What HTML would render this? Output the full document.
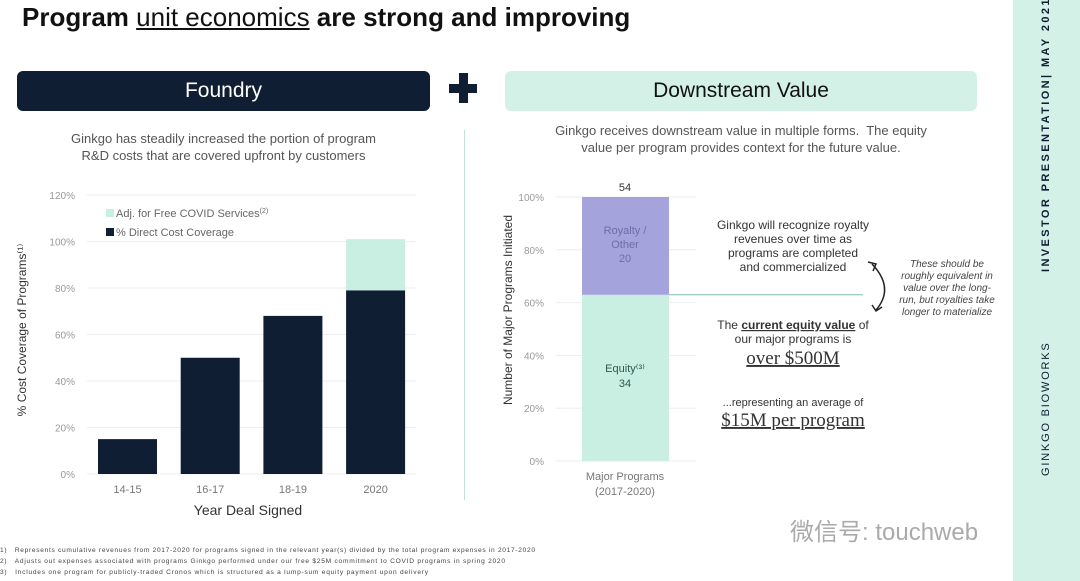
<!DOCTYPE html>
<html><head><meta charset="utf-8"><style>
body{margin:0;width:1080px;height:581px;background:#fff;overflow:hidden;font-family:"Liberation Sans",sans-serif;position:relative}
.a{position:absolute}
.vt{position:absolute;transform-origin:0 0;transform:rotate(-90deg);white-space:nowrap;font-size:11px;color:#0f1e33;line-height:12px;height:12px}
</style></head><body>
<div class="a" style="left:22px;top:2px;font-size:26px;font-weight:bold;color:#111;white-space:nowrap">Program <span style="font-weight:normal;text-decoration:underline;font-family:'Liberation Sans Narrow','Liberation Sans',sans-serif">unit economics</span> are strong and improving</div>
<div class="a" style="left:17px;top:71px;width:413px;height:40px;background:#0f1e33;border-radius:6px;color:#fff;font-size:21px;text-align:center;line-height:40px">Foundry</div>
<div class="a" style="left:449px;top:73px;width:28px;height:30px">
<div class="a" style="left:10px;top:0;width:9px;height:30px;background:#0f1e33"></div><div class="a" style="left:0;top:11px;width:28px;height:9px;background:#0f1e33"></div></div>
<div class="a" style="left:505px;top:71px;width:472px;height:40px;background:#d4f1e8;border-radius:6px;color:#111;font-size:21px;text-align:center;line-height:40px">Downstream Value</div>
<div class="a" style="left:17px;top:130px;width:413px;text-align:center;font-size:13px;line-height:17px;color:#555">Ginkgo has steadily increased the portion of program<br>R&amp;D costs that are covered upfront by customers</div>
<div class="a" style="left:505px;top:122px;width:472px;text-align:center;font-size:13px;line-height:17px;color:#555">Ginkgo receives downstream value in multiple forms.&nbsp; The equity<br>value per program provides context for the future value.</div>
<div class="a" style="left:464px;top:130px;width:1px;height:370px;background:#bfe3da"></div>
<div class="a" style="left:1013px;top:0;width:67px;height:581px;background:#d4f1e8"></div>
<div class="vt" style="left:1040px;top:476px;letter-spacing:1.8px">GINKGO BIOWORKS</div>
<div class="vt" style="left:1040px;top:272px;letter-spacing:2.4px;font-weight:bold">INVESTOR PRESENTATION| MAY 2021</div>
<svg class="a" style="left:0;top:0" width="1013" height="581" font-family="Liberation Sans, sans-serif">
<g id="left"></g><g id="right"></g>
<text x="26" y="330" transform="rotate(-90 26 330)" font-size="12" fill="#333" text-anchor="middle">% Cost Coverage of Programs⁽¹⁾</text>
<text x="248" y="515" font-size="14" fill="#333" text-anchor="middle">Year Deal Signed</text>
<rect x="106" y="209" width="8" height="8" fill="#c9eee2"/>
<text x="116" y="217" font-size="11" fill="#666">Adj. for Free COVID Services<tspan font-size="7" dy="-4">(2)</tspan></text>
<rect x="106" y="228" width="8" height="8" fill="#0f1e33"/>
<text x="116" y="236" font-size="11" fill="#666">% Direct Cost Coverage</text>
<text x="512" y="310" transform="rotate(-90 512 310)" font-size="12" fill="#333" text-anchor="middle">Number of Major Programs Initiated</text>
<text x="625" y="480" font-size="11" fill="#777" text-anchor="middle">Major Programs</text>
<text x="625" y="495" font-size="11" fill="#777" text-anchor="middle">(2017-2020)</text>
<g font-size="12" fill="#333" text-anchor="middle">
<text x="793" y="229">Ginkgo will recognize royalty</text>
<text x="793" y="243">revenues over time as</text>
<text x="793" y="257">programs are completed</text>
<text x="793" y="271">and commercialized</text>
<text x="793" y="329">The <tspan text-decoration="underline" font-weight="bold">current equity value</tspan> of</text>
<text x="793" y="343">our major programs is</text>
<text x="793" y="364" font-family="Liberation Serif, serif" font-size="19" text-decoration="underline">over $500M</text>
<text x="793" y="406" font-size="11">...representing an average of</text>
<text x="793" y="426" font-family="Liberation Serif, serif" font-size="19" text-decoration="underline">$15M per program</text>
</g>
<g font-size="10" fill="#444" font-style="italic" text-anchor="middle">
<text x="947" y="267">These should be</text><text x="947" y="279">roughly equivalent in</text><text x="947" y="291">value over the long-</text><text x="947" y="303">run, but royalties take</text><text x="947" y="315">longer to materialize</text></g>
<path d="M872 264 Q895 288 876 310" stroke="#222" stroke-width="1.5" fill="none"/>
<path d="M868 262 L876 264 L873 271 M872 305 L876 311 L882 307" stroke="#222" stroke-width="1.5" fill="none"/>
<g font-size="6.6" fill="#444">
<text x="0" y="552" textLength="535">1)&nbsp;&nbsp; Represents cumulative revenues from 2017-2020 for programs signed in the relevant year(s) divided by the total program expenses in 2017-2020</text>
<text x="0" y="563" textLength="505">2)&nbsp;&nbsp; Adjusts out expenses associated with programs Ginkgo performed under our free $25M commitment to COVID programs in spring 2020</text>
<text x="0" y="574" textLength="428">3)&nbsp;&nbsp; Includes one program for publicly-traded Cronos which is structured as a lump-sum equity payment upon delivery</text></g>
</svg>
<div class="a" style="left:790px;top:512px;font-size:24px;color:#aaa;font-family:'Liberation Sans','Noto Sans CJK SC',sans-serif;white-space:nowrap">微信号: touchweb</div>
<script>
const lCats=["14-15","16-17","18-19","2020"];
const lDirect=[15,50,68,79];
const lCovid=[0,0,0,22];
const lTicks=[0,20,40,60,80,100,120];
const rEquity=34;
const rRoyalty=20;
const rTicks=[0,20,40,60,80,100];
const NS="http://www.w3.org/2000/svg";
function mk(p,t,a){const e=document.createElementNS(NS,t);for(const k in a)e.setAttribute(k,a[k]);p.appendChild(e);return e;}
const L=document.getElementById('left');
const ly=v=>474-v*(474-195)/120;
const lx=i=>98+i*82.7;
lTicks.forEach(t=>{mk(L,'line',{x1:87,x2:416,y1:ly(t),y2:ly(t),stroke:'#eee'});const tx=mk(L,'text',{x:75,y:ly(t)+4,'font-size':10,fill:'#999','text-anchor':'end'});tx.textContent=t+'%';

});
lCats.forEach((c,i)=>{const b=mk(L,'rect',{x:lx(i),y:ly(lDirect[i]),width:59,height:ly(0)-ly(lDirect[i]),fill:'#0f1e33'});


if(lCovid[i]>0){const g=mk(L,'rect',{x:lx(i),y:ly(lDirect[i]+lCovid[i]),width:59,height:ly(lDirect[i])-ly(lDirect[i]+lCovid[i]),fill:'#c9eee2'});

}
const t=mk(L,'text',{x:lx(i)+29.5,y:493,'font-size':11,fill:'#777','text-anchor':'middle'});t.textContent=c;

});
const R=document.getElementById('right');
const tot=rEquity+rRoyalty;
const ry=p=>461-p*(461-197)/100;
rTicks.forEach(t=>{mk(R,'line',{x1:556,x2:696,y1:ry(t),y2:ry(t),stroke:'#eee'});const tx=mk(R,'text',{x:544,y:ry(t)+4,'font-size':10,fill:'#999','text-anchor':'end'});tx.textContent=t+'%';

});
const ep=rEquity/tot*100;
const e=mk(R,'rect',{x:582,y:ry(ep),width:87,height:ry(0)-ry(ep),fill:'#c9eee2'});


const r=mk(R,'rect',{x:582,y:ry(100),width:87,height:ry(ep)-ry(100),fill:'#a4a3dc'});


mk(R,'line',{x1:669,x2:863,y1:ry(ep),y2:ry(ep),stroke:'#7fbfb0'});
const lab=(x,y,s,c,n)=>{const t=mk(R,'text',{x:x,y:y,'font-size':11,fill:c,'text-anchor':'middle'});t.textContent=s;

};
lab(625,ry(100)-6,String(tot),'#333','total-label');
const rm=ry((100+ep)/2);
lab(625,rm-12,'Royalty /','#6f6fa8','royalty-label');lab(625,rm+2,'Other','#6f6fa8','royalty-label-2');lab(625,rm+16,String(rRoyalty),'#6f6fa8','royalty-value');
const em=ry(ep/2);
lab(625,em-6,'Equity⁽³⁾','#2c5a50','equity-label');lab(625,em+9,String(rEquity),'#2c5a50','equity-value');
</script>
</body></html>
